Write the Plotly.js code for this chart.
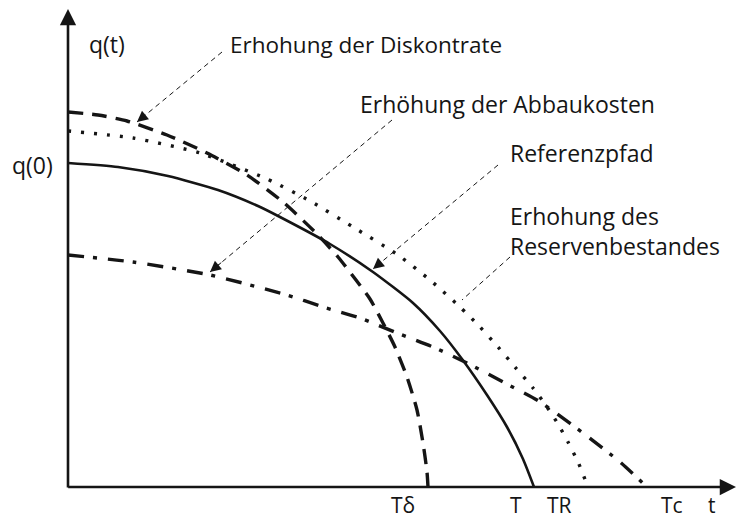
<!DOCTYPE html>
<html>
<head>
<meta charset="utf-8">
<script src="https://cdn.plot.ly/plotly-3.0.1.min.js"></script>
<style>html,body{margin:0;padding:0;background:#fff;}#chart{width:737px;height:519px;}</style>
</head>
<body>
<div id="chart"></div>
<script>
// Referenzpfad (solid)
const tRef = [0, 50, 100, 150, 190, 212, 262, 305, 345, 372, 394, 419, 439, 455, 466];
const qRef = [324, 320, 311, 297, 281, 270, 243, 215, 184, 156, 128, 92, 60, 28, 0];
// Erhöhung der Diskontrate (dashed)
const tDisk = [0, 30, 59, 99, 139, 179, 215, 248, 270, 288, 302, 315, 327, 339, 349, 355, 359, 360];
const qDisk = [375, 372, 366, 352, 334, 312, 285, 254, 230, 207, 188, 164, 140, 110, 77, 44, 15, 0];
// Erhöhung des Reservenbestandes (dotted)
const tRes = [0, 65, 132, 199, 242, 285, 330, 362, 392, 412, 430, 447, 465, 479, 490, 500, 510, 520];
const qRes = [356, 349, 334, 308, 286, 260, 232, 207, 180, 160, 140, 120, 99, 80, 63, 45, 25, 0];
// Erhöhung der Abbaukosten (dash-dot)
const tAbb = [0, 65, 142, 219, 255, 292, 329, 365, 399, 435, 469, 485, 519, 552, 579];
const qAbb = [232, 225, 212, 192, 180, 169, 154, 140, 124, 105, 87, 76, 51, 25, 0];

const seriesNames = ["Referenzpfad", "Erhöhung der Diskontrate", "Erhöhung des Reservenbestandes", "Erhöhung der Abbaukosten"];
const axisLabels = ["q(t)", "q(0)"];
const endLabels = ["Tδ", "T", "TR", "Tc", "t"];

const ink = "#151515";
const FONT = "Open Sans";
const XMAX = 669, YMAX = 487;

const traces = [
  {x: tRef, y: qRef, name: seriesNames[0], mode: "lines", line: {color: ink, width: 2.6, shape: "spline", smoothing: 0.6}},
  {x: tDisk, y: qDisk, name: seriesNames[1], mode: "lines", line: {color: ink, width: 3.4, dash: "15px,9px", shape: "spline", smoothing: 0.6}},
  {x: tRes, y: qRes, name: seriesNames[2], mode: "lines", line: {color: ink, width: 3.4, dash: "3px,10px", shape: "spline", smoothing: 0.6}},
  {x: tAbb, y: qAbb, name: seriesNames[3], mode: "lines", line: {color: ink, width: 3.4, dash: "16px,9px,4px,11px", shape: "spline", smoothing: 0.6}}
].map(tr => Object.assign(tr, {cliponaxis: false, hoverinfo: "skip", showlegend: false}));

// pointer lines (dashed) from label to curve: [fromT, fromQ, toT, toQ]
const pointers = [
  [154, 435, 69, 365],
  [324, 367, 142, 215],
  [430, 322, 305, 218],
  [442, 230, 394, 187]
];

const shapes = pointers.map(p => ({
  type: "line", xref: "x", yref: "y",
  x0: p[0], y0: p[1], x1: p[2], y1: p[3],
  line: {color: ink, width: 1, dash: "5px,4px"}
}));

const annotations = [];
pointers.forEach(p => {
  const f = 0.07;
  annotations.push({
    x: p[2], y: p[3], xref: "x", yref: "y",
    ax: p[2] + (p[0] - p[2]) * f, ay: p[3] + (p[1] - p[3]) * f,
    axref: "x", ayref: "y", text: "", showarrow: true,
    arrowhead: 2, arrowsize: 2.2, arrowwidth: 1, arrowcolor: ink, standoff: 0
  });
});
// axes with arrows
annotations.push({x: 0, y: 478, xref: "x", yref: "y", ax: 0, ay: -2, axref: "x", ayref: "y",
  text: "", showarrow: true, arrowhead: 2, arrowsize: 1.25, arrowwidth: 2.6, arrowcolor: ink, standoff: 0});
annotations.push({x: 668, y: 0, xref: "x", yref: "y", ax: -1.3, ay: 0, axref: "x", ayref: "y",
  text: "", showarrow: true, arrowhead: 2, arrowsize: 1.25, arrowwidth: 2.6, arrowcolor: ink, standoff: 0});

function label(text, t, q, xanchor, size, pad) {
  annotations.push({x: t / XMAX, y: q / YMAX, xref: "paper", yref: "paper", text: text, showarrow: false,
    xanchor: xanchor, yanchor: "middle", align: "left", borderpad: pad === undefined ? 1 : pad,
    font: {family: FONT, size: size, color: ink}});
}
label("Erhohung der Diskontrate", 160, 442, "left", 22.5);
label("Erhöhung der Abbaukosten", 290, 383, "left", 23);
label("Referenzpfad", 440, 334, "left", 23);
label("Erhohung des<br>Reservenbestandes", 440, 256, "left", 23);
label(axisLabels[0], 39, 443, "center", 23);
label(axisLabels[1], -36, 322, "center", 23);
const endX = [335, 448, 491, 604, 644];
endLabels.forEach((s, i) => label(s, endX[i], -18, "center", 21, 0));

const ax = {visible: false, showgrid: false, zeroline: false, fixedrange: true};
const layout = {
  width: 737, height: 519,
  margin: {l: 68, r: 0, t: 0, b: 32, pad: 0},
  paper_bgcolor: "#ffffff", plot_bgcolor: "#ffffff",
  xaxis: Object.assign({}, ax, {range: [0, XMAX]}),
  yaxis: Object.assign({}, ax, {range: [0, YMAX]}),
  shapes: shapes,
  annotations: annotations,
  showlegend: false,
  font: {family: FONT, color: ink}
};

Plotly.newPlot("chart", traces, layout, {displayModeBar: false, staticPlot: true});
</script>
</body>
</html>
